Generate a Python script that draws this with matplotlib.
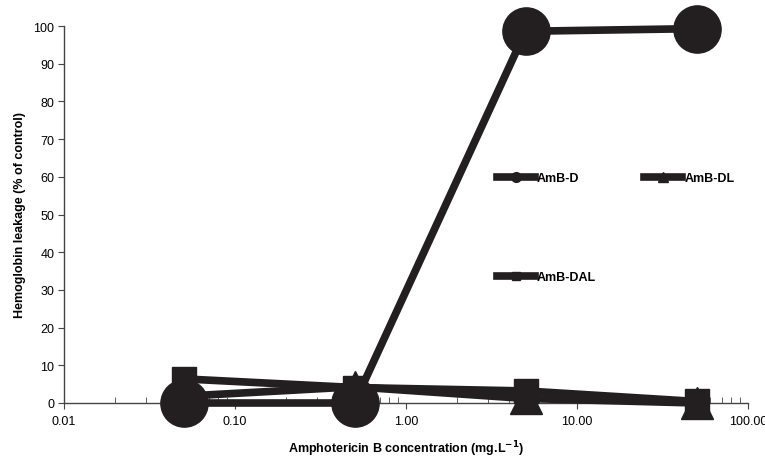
import numpy as np
import matplotlib
matplotlib.use("Agg")
import matplotlib.pyplot as plt
from matplotlib.ticker import FixedLocator, LogLocator, NullFormatter

plt.rcParams['font.family'] = ['Liberation Sans', 'DejaVu Sans']

# concentrations (mg/L)
conc = [0.05, 0.5, 5, 50]
# hemoglobin leakage (% of control)
amb_d = [0, 0, 98.6, 99.3]
amb_dl = [1.8, 4.3, 1.2, 0.0]
amb_dal = [6.4, 4.1, 3.2, 0.4]
labels = ['AmB-D', 'AmB-DL', 'AmB-DAL']

col = '#231f20'

fig = plt.figure(figsize=(7.65, 4.6), dpi=100)
ax = fig.add_axes([64 / 765, 1 - 404 / 460, (748 - 64) / 765, (404 - 27) / 460])

ax.plot(conc, amb_dal, color=col, lw=5.5, marker='s', ms=17, zorder=3, label=labels[2], clip_on=False)
ax.plot(conc, amb_dl, color=col, lw=5.5, marker='^', ms=23, zorder=4, label=labels[1], clip_on=False)
ax.plot(conc, amb_d, color=col, lw=5.5, marker='o', ms=34, zorder=5, label=labels[0], clip_on=False)

ax.set_xscale('log')
ax.set_xlim(0.01, 100)
ax.set_ylim(0, 100)
ax.xaxis.set_major_locator(FixedLocator([0.01, 0.1, 1, 10, 100]))
ax.set_xticklabels(['0.01', '0.10', '1.00', '10.00', '100.00'])
ax.xaxis.set_minor_locator(LogLocator(base=10, subs=np.arange(2, 10)))
ax.xaxis.set_minor_formatter(NullFormatter())
ax.set_yticks(np.arange(0, 101, 10))

for s in ['top', 'right']:
    ax.spines[s].set_visible(False)
for s in ['left', 'bottom']:
    ax.spines[s].set_color('#444444')
    ax.spines[s].set_linewidth(1.0)
ax.tick_params(axis='x', which='major', direction='out', length=4, color='#444444', labelsize=9, pad=5)
ax.tick_params(axis='x', which='minor', direction='in', length=4, color='#444444')
ax.tick_params(axis='y', direction='out', length=4, color='#444444', labelsize=9, pad=3)

ax.set_xlabel('Amphotericin B concentration (mg.L$^{\\mathbf{-1}}$)', fontsize=9, fontweight='bold', labelpad=8)
ax.set_ylabel('Hemoglobin leakage (% of control)', fontsize=9, fontweight='bold', labelpad=5)

h, l = ax.get_legend_handles_labels()
order = [2, 0, 1]
leg = ax.legend([h[i] for i in order], [l[i] for i in order], ncol=2,
                loc='upper left', bbox_to_anchor=(497 / 765, 1 - 173 / 460),
                bbox_transform=fig.transFigure, frameon=False,
                handlelength=3.0, handletextpad=0.2, labelspacing=7.0,
                columnspacing=3.85, borderpad=0, borderaxespad=0,
                prop={'size': 9, 'weight': 'bold'})
leg.set_zorder(10)
for hd, ms in zip(leg.legend_handles, [7, 6, 7]):
    hd.set_markersize(ms)

fig.savefig('out.png', dpi=100)
